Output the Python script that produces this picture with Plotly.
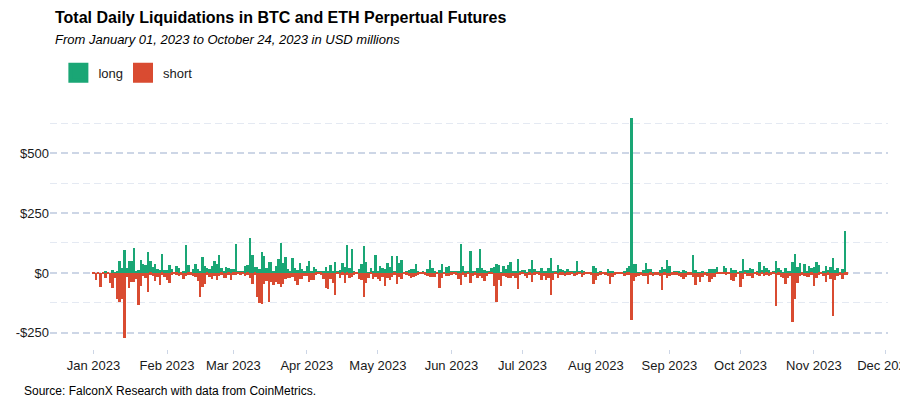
import pandas as pd
import plotly.graph_objects as go

# ---- data (USD millions), one value per day starting 2023-01-01 ----
start_date = "2023-01-01"

long_liq = [
    2, 0, 2, 0, 2, 7, 2, 0, 11, 3,
    7, 49, 19, 94, 19, 49, 49, 103, 7, 11,
    53, 36, 32, 86, 49, 24, 36, 15, 11, 78,
    11, 11, 32, 15, 1, 28, 19, 0, 7, 115,
    32, 3, 15, 36, 15, 7, 65, 28, 19, 15, 28, 49,
    36, 74, 19, 7, 24, 19, 15, 15, 119, 7,
    7, 7, 28, 32, 144, 74, 24, 24, 15, 86,
    69, 19, 44, 44, 7, 28, 57, 124, 40, 65,
    15, 7, 61, 19, 11, 40, 15, 7, 28, 49,
    7, 24, 15, 7, 7, 7, 24, 7, 32, 7, 44, 7,
    11, 40, 24, 115, 19, 99, 7, 3, 15, 36,
    111, 44, 3, 19, 7, 74, 7, 28, 19, 15,
    40, 24, 69, 7, 69, 40, 53, 3, 7, 11,
    15, 15, 36, 7, 3, 7, 3, 15, 53, 19,
    7, 3, 11, 36, 3, 24, 28, 7, 7, 7, 7, 119, 28,
    7, 7, 90, 7, 7, 19, 99, 19, 11, 7,
    7, 19, 24, 36, 32, 3, 28, 15, 32, 44,
    7, 7, 57, 7, 11, 11, 3, 15, 53, 15,
    7, 7, 19, 7, 7, 19, 61, 7, 7, 32,
    15, 11, 7, 15, 7, 7, 7, 49, 7, 11, 7, 3, 3,
    2, 29, 21, 4, 8, 2, 2, 17, 8, 8,
    2, 2, 2, 2, 8, 21, 29, 646, 37, 37,
    4, 4, 12, 42, 17, 17, 4, 2, 2, 12,
    25, 17, 54, 29, 2, 8, 8, 8, 2, 12,
    8, 2, 2, 75, 12, 4, 4, 8, 2, 4, 17, 17, 17,
    24, 3, 3, 28, 19, 3, 19, 11, 11, 3,
    7, 57, 11, 11, 19, 15, 3, 7, 44, 11,
    28, 19, 11, 3, 7, 49, 19, 11, 3, 19,
    7, 7, 44, 78, 24, 40, 3, 36, 7, 28,
    19, 24, 44, 32, 3, 7, 28, 11, 24, 61,
    11, 19, 3, 15, 174, 2,
]

short_liq = [
    -3, -29, -3, -58, -3, -21, -2, -42, -62, -21,
    -108, -121, -108, -271, -17, -62, -37, -37, -24, -133,
    -54, -14, -21, -79, -8, -12, -33, -17, -50, -8,
    -17, -29, -42, -8, -4, -8, -12, -8, -25, -12,
    -8, -8, -12, -17, -33, -100, -58, -46, -8, -17, -25, -12,
    -29, -12, -8, -21, -21, -8, -29, -8, -8, -4,
    -8, -4, -12, -8, -21, -46, -8, -100, -125, -129,
    -46, -33, -121, -37, -50, -37, -46, -58, -46, -25,
    -21, -21, -17, -33, -50, -25, -25, -12, -12, -37,
    -29, -29, -8, -4, -8, -25, -62, -67, -25, -42, -92, -4,
    -21, -8, -42, -8, -21, -17, -8, -4, -25, -29,
    -100, -42, -21, -4, -25, -17, -25, -33, -17, -54,
    -21, -29, -17, -8, -46, -17, -25, -4, -8, -12,
    -21, -17, -12, -8, -4, -4, -8, -12, -17, -17,
    -17, -4, -62, -21, -4, -12, -12, -8, -4, -8, -25, -50, -8,
    -17, -4, -42, -12, -8, -21, -12, -21, -33, -12,
    -4, -4, -54, -121, -29, -54, -12, -17, -21, -21,
    -12, -21, -67, -8, -4, -12, -21, -8, -37, -8,
    -4, -8, -29, -12, -29, -21, -92, -29, -4, -21,
    -8, -8, -12, -8, -8, -4, -12, -8, -4, -17, -8, -4, -4,
    -7, -44, -28, -11, -7, -4, -7, -11, -44, -15,
    -7, -4, -4, -4, -11, -7, -7, -196, -32, -15,
    -11, -7, -11, -11, -44, -7, -11, -7, -7, -11,
    -69, -7, -19, -11, -7, -7, -7, -11, -15, -24,
    -15, -7, -7, -15, -49, -15, -36, -15, -7, -11, -36, -24, -15,
    -3, -4, -3, -4, -8, -4, -29, -33, -17, -4,
    -58, -25, -4, -12, -12, -21, -4, -8, -12, -4,
    -12, -8, -12, -8, -4, -138, -8, -17, -21, -47,
    -21, -12, -206, -108, -42, -12, -8, -12, -17, -17,
    -8, -54, -21, -8, -4, -12, -38, -8, -25, -180,
    -29, -12, -8, -25, -8, -8,
]

y_tick_vals = [-250, 0, 250, 500]
y_tick_text = ["-$250", "$0", "$250", "$500"]

GREEN = "#1aa675"
RED = "#d94b31"
FONT = "Liberation Sans, Arial, sans-serif"

dates = pd.date_range(start_date, periods=len(long_liq), freq="D")

fig = go.Figure()
fig.add_trace(go.Bar(x=dates, y=long_liq, name="long", marker=dict(color=GREEN, line=dict(width=0)),
                     showlegend=False))
fig.add_trace(go.Bar(x=dates, y=short_liq, name="short", marker=dict(color=RED, line=dict(width=0)),
                     showlegend=False))
# legend keys (one legend each so spacing can match)
for nm, col, lg in (("long", GREEN, "legend"), ("short", RED, "legend2")):
    fig.add_trace(go.Scatter(x=[None], y=[None], mode="markers", name=nm, legend=lg,
                             marker=dict(symbol="square", size=16, color=col,
                                         line=dict(color=col, width=4))))

grid_major = "#cdd6e6"
grid_minor = "#e4e9f2"

legend_common = dict(orientation="h", xanchor="left", y=1.203, yanchor="top",
                     font=dict(size=13, color="#1a1a1a"), itemsizing="trace",
                     bgcolor="rgba(0,0,0,0)", itemclick=False, itemdoubleclick=False)

fig.update_layout(
    width=900, height=400,
    margin=dict(l=50, r=12, t=107, b=51, autoexpand=False),
    paper_bgcolor="white", plot_bgcolor="white",
    barmode="relative", bargap=0,
    font=dict(family=FONT, size=13, color="#1a1a1a"),
    showlegend=True,
    legend=dict(x=0.010, **legend_common),
    legend2=dict(x=0.0871, **legend_common),
    xaxis=dict(
        type="date",
        range=["2022-12-13 15:00", "2023-12-02 06:00"],
        tickformat="%b %Y", dtick="M1", tick0="2023-01-01",
        ticks="outside", ticklen=4, tickcolor=grid_major, tickwidth=1,
        showgrid=False, zeroline=False, showline=False,
        ticklabeloverflow="allow", automargin=False,
        tickfont=dict(size=13, color="#1a1a1a"),
    ),
    yaxis=dict(
        range=[-317, 692], automargin=False,
        tickmode="array", tickvals=y_tick_vals, ticktext=y_tick_text,
        showgrid=True, gridcolor=grid_major, gridwidth=1.5, griddash="7px,4px",
        zeroline=False, showline=False, ticks="",
        tickfont=dict(size=13, color="#1a1a1a"),
        minor=dict(dtick=125, tick0=0, showgrid=True, gridcolor=grid_minor,
                   gridwidth=1.2, griddash="7px,4px"),
    ),
    annotations=[
        dict(text="<b>Total Daily Liquidations in BTC and ETH Perpertual Futures</b>",
             xref="paper", yref="paper", x=0, y=1.368, xshift=3,
             xanchor="left", yanchor="middle", showarrow=False,
             font=dict(size=16, color="black", family=FONT)),
        dict(text="<i>From January 01, 2023 to October 24, 2023 in USD millions</i>",
             xref="paper", yref="paper", x=0, y=1.277, xshift=3,
             xanchor="left", yanchor="middle", showarrow=False,
             font=dict(size=13, color="black", family=FONT)),
        dict(text="Source: FalconX Research with data from CoinMetrics.",
             xref="paper", yref="paper", x=0, y=-0.1736, xshift=-28,
             xanchor="left", yanchor="middle", showarrow=False,
             font=dict(size=12, color="black", family=FONT)),
    ],
)

fig.write_html("out.html", config={"displayModeBar": False},
               post_script="document.body.style.margin='0';document.body.style.padding='0';")
